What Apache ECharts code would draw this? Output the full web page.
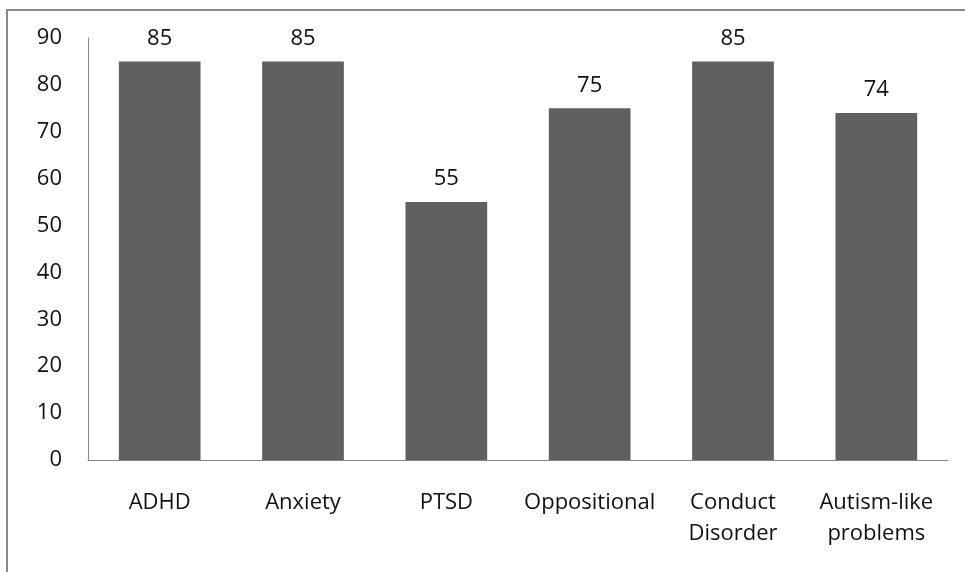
<!DOCTYPE html>
<html><head><meta charset="utf-8">
<script src="https://cdn.jsdelivr.net/npm/echarts@6/dist/echarts.min.js"></script>
<style>html,body{margin:0;padding:0;background:#fff}#c{width:965px;height:572px}</style>
</head><body><div id="c"></div>
<script>
const categories = ['ADHD', 'Anxiety', 'PTSD', 'Oppositional', 'Conduct\nDisorder', 'Autism-like\nproblems'];
const values = [85, 85, 55, 75, 85, 74];
const yTicks = [0, 10, 20, 30, 40, 50, 60, 70, 80, 90];

const chart = echarts.init(document.getElementById('c'), null, {renderer: 'canvas'});
const font = '"Open Sans", sans-serif';
chart.setOption({
  animation: false,
  backgroundColor: '#fff',
  graphic: [{
    type: 'polyline', silent: true,
    shape: {points: [[7, 580], [7, 10], [975, 10]]},
    style: {stroke: '#888', lineWidth: 2, fill: null}
  }],
  grid: {left: 88, right: 17, top: 38, bottom: 112},
  xAxis: {
    type: 'category', data: categories,
    axisLine: {lineStyle: {color: '#868686', width: 1}},
    axisTick: {show: false},
    axisLabel: {color: '#111', fontFamily: font, fontSize: 22, margin: 27, lineHeight: 31, interval: 0}
  },
  yAxis: {
    type: 'value', min: yTicks[0], max: yTicks[yTicks.length - 1], interval: 10,
    axisLine: {show: true, lineStyle: {color: '#868686', width: 1}},
    axisTick: {show: false},
    splitLine: {show: false},
    axisLabel: {color: '#111', fontFamily: font, fontSize: 22, margin: 26}
  },
  series: [{
    type: 'bar', data: values, barWidth: '57%',
    itemStyle: {color: '#606060'},
    label: {show: true, position: 'top', distance: 12, color: '#111', fontFamily: font, fontSize: 22}
  }]
});
</script></body></html>
